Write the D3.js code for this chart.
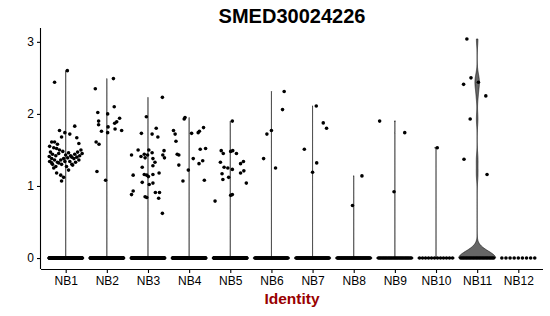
<!DOCTYPE html>
<html>
<head>
<meta charset="utf-8">
<script src="https://cdn.jsdelivr.net/npm/d3@7"></script>
<style>
  body { margin: 0; background: #fff; }
  text { font-family: "Liberation Sans", Arial, sans-serif; }
</style>
</head>
<body>
<div id="chart"></div>
<script>
// clusters on the x axis
var categories = ["NB1", "NB2", "NB3", "NB4", "NB5", "NB6", "NB7", "NB8", "NB9", "NB10", "NB11", "NB12"];

// how many cells sit at exactly 0 in each cluster
var zeroCounts = [200, 200, 200, 200, 200, 60, 60, 50, 28, 12, 24, 9];

// expressing cells: [jitter (fraction of band), expression]
var pointsNB1 = [[-0.27, 2.44], [0.04, 2.6], [0.22, 1.83], [-0.15, 1.77], [-0.02, 1.74], [0.10, 1.72],
  [-0.10, 1.68], [0.27, 1.67], [-0.34, 1.61], [-0.27, 1.61], [-0.20, 1.58], [0.32, 1.59], [-0.39, 1.55],
  [-0.29, 1.53], [-0.22, 1.52], [-0.15, 1.5], [-0.37, 1.47], [-0.32, 1.44], [-0.24, 1.42], [-0.17, 1.45],
  [-0.07, 1.48], [0, 1.43], [0.07, 1.46], [0.15, 1.4], [0.22, 1.44], [0.29, 1.47], [0.37, 1.5], [0.40, 1.45],
  [-0.40, 1.41], [-0.34, 1.38], [-0.27, 1.36], [-0.20, 1.33], [-0.12, 1.36], [-0.05, 1.38], [0.05, 1.39],
  [0.12, 1.42], [0.20, 1.38], [0.27, 1.4], [0.34, 1.42], [-0.39, 1.34], [-0.32, 1.3], [-0.24, 1.27],
  [-0.17, 1.32], [-0.10, 1.3], [-0.02, 1.34], [0.10, 1.34], [0.17, 1.29], [0.24, 1.33], [0.32, 1.36],
  [-0.29, 1.25], [-0.22, 1.18], [-0.12, 1.15], [-0.10, 1.07], [0.02, 1.27], [0.07, 1.22], [0.15, 1.3],
  [-0.34, 1.32], [-0.05, 1.12]];
var pointsNB2 = [[0.16, 2.49], [-0.28, 2.35], [0.18, 2.1], [-0.22, 2.02], [0.02, 2.0], [0.31, 1.94],
  [0.24, 1.89], [0.19, 1.87], [-0.20, 1.9], [-0.20, 1.85], [0.03, 1.82], [0.20, 1.79], [-0.13, 1.76],
  [0.36, 1.77], [0.02, 1.74], [-0.26, 1.61], [-0.19, 1.58], [-0.24, 1.2], [-0.03, 1.08]];
var pointsNB3 = [[0.35, 2.23], [-0.04, 1.96], [0.20, 1.8], [-0.16, 1.73], [0.10, 1.72], [0.24, 1.68],
  [-0.24, 1.5], [0.02, 1.5], [0.10, 1.46], [0.39, 1.49], [-0.40, 1.43], [-0.17, 1.41], [-0.09, 1.44],
  [-0.07, 1.39], [-0.01, 1.43], [0.36, 1.43], [0.40, 1.39], [0.12, 1.38], [0.17, 1.33], [0.12, 1.28],
  [-0.14, 1.26], [-0.36, 1.15], [-0.09, 1.16], [-0.03, 1.15], [0.01, 1.13], [0.12, 1.16], [0.27, 1.18],
  [-0.14, 1.05], [0.03, 1.02], [0.12, 1.04], [-0.36, 0.93], [-0.40, 0.88], [0.18, 0.91], [0.28, 0.91],
  [-0.07, 0.85], [-0.03, 0.84], [0.26, 0.83], [0.35, 0.62]];
var pointsNB4 = [[-0.10, 1.95], [-0.12, 1.93], [-0.38, 1.77], [-0.34, 1.72], [0.06, 1.73], [0.22, 1.74],
  [0.25, 1.76], [0.35, 1.81], [-0.32, 1.62], [0.27, 1.51], [0.40, 1.52], [-0.29, 1.44], [-0.25, 1.43],
  [0.10, 1.38], [0.33, 1.35], [0.24, 1.31], [-0.25, 1.29], [-0.02, 1.22], [-0.15, 1.07], [0.37, 1.08]];
var pointsNB5 = [[0.05, 1.9], [-0.22, 1.49], [-0.17, 1.45], [0.01, 1.48], [0.06, 1.49], [0.15, 1.45],
  [-0.24, 1.33], [0.25, 1.31], [0.32, 1.34], [-0.15, 1.26], [-0.06, 1.25], [0.05, 1.23], [-0.20, 1.17],
  [0.25, 1.18], [0.33, 1.21], [-0.18, 1.09], [-0.04, 1.12], [0.39, 1.04], [0.01, 0.87], [0.05, 0.88],
  [-0.37, 0.79]];
var pointsNB6 = [[0.31, 2.31], [0.27, 2.06], [0, 1.77], [-0.11, 1.72], [-0.19, 1.38], [0.10, 1.25]];
var pointsNB7 = [[0.09, 2.11], [0.26, 1.875], [0.34, 1.8], [-0.20, 1.51], [0.10, 1.32], [0, 1.19]];
var pointsNB8 = [[0.20, 1.14], [-0.03, 0.73]];
var pointsNB9 = [[-0.37, 1.9], [0.24, 1.74], [-0.02, 0.92]];
var pointsNB10 = [[0.03, 1.53]];
var pointsNB11 = [[-0.25, 3.04], [-0.15, 2.5], [-0.33, 2.41], [0.03, 2.44], [0.21, 2.25], [-0.17, 1.93],
  [-0.32, 1.37], [0.24, 1.16]];
var pointsNB12 = [];

var yTicks = [0, 1, 2, 3];
var title = "SMED30024226";
var xTitle = "Identity";

var expressed = [pointsNB1, pointsNB2, pointsNB3, pointsNB4, pointsNB5, pointsNB6,
  pointsNB7, pointsNB8, pointsNB9, pointsNB10, pointsNB11, pointsNB12];

var W = 550, H = 316;
var margin = {top: 28, right: 7, bottom: 47, left: 41},
    width = W - margin.left - margin.right,
    height = H - margin.top - margin.bottom;

// one record per cluster: all cells (zeros spread over the jitter width)
var groups = categories.map(function(c, i) {
    var cells = [];
    var n0 = zeroCounts[i];
    for (var k = 0; k < n0; k++) {
	cells.push({jit: n0 > 1 ? -0.4 + 0.8 * k / (n0 - 1) : 0, val: 0});
    }
    expressed[i].forEach(function(p) { cells.push({jit: p[0], val: p[1]}); });
    return {id: c, cells: cells};
});

var allVals = [].concat.apply([], groups.map(function(g) { return g.cells.map(function(d) { return d.val; }); }));
var yMax = d3.max(allVals), yMin = 0, pad = (yMax - yMin) * 0.05;

var x = d3.scalePoint().domain(categories).range([0, width]).padding(0.6),
    y = d3.scaleLinear().domain([yMin - pad, yMax + pad]).range([height, 0]);

var svg = d3.select("#chart").append("svg")
    .attr("width", W)
    .attr("height", H)
    .append("g")
    .attr("transform", "translate(" + margin.left + "," + margin.top + ")");

// bandwidth like R's bw.nrd0; Seurat adds tiny noise, so IQR==0 collapses the violin to a spike
function bandwidth(v) {
    var s = v.slice().sort(d3.ascending);
    var iqr = d3.quantileSorted(s, 0.75) - d3.quantileSorted(s, 0.25);
    if (iqr === 0) return 1e-4;
    return 0.9 * Math.min(d3.deviation(s), iqr / 1.34) * Math.pow(s.length, -0.2);
}

var halfW = 0.45 * x.step();

groups.forEach(function(g) {
    var v = g.cells.map(function(d) { return d.val; });
    var lo = d3.min(v), hi = d3.max(v);
    if (hi === lo) return;
    var bw = bandwidth(v);
    var grid = d3.range(512).map(function(k) { return lo + (hi - lo) * k / 511; });
    var dens = grid.map(function(t) {
	return {t: t, d: d3.sum(v, function(u) { var z = (t - u) / bw; return Math.exp(-0.5 * z * z); })};
    });
    var dmax = d3.max(dens, function(d) { return d.d; });
    var cx = x(g.id);
    var area = d3.area()
	.y(function(d) { return y(d.t); })
	.x0(function(d) { return cx - halfW * d.d / dmax; })
	.x1(function(d) { return cx + halfW * d.d / dmax; });
    svg.append("path")
	.attr("class", "violin")
	.attr("d", area(dens))
	.style("fill", "#666666")
	.style("stroke", "#000")
	.style("stroke-width", 0.55);
});

svg.selectAll(".grp")
    .data(groups)
    .enter().append("g")
    .attr("class", "grp")
    .selectAll(".dot")
    .data(function(g) { return g.cells.map(function(d) { return {id: g.id, jit: d.jit, val: d.val}; }); })
    .enter().append("circle")
    .attr("class", "dot")
    .attr("r", 1.8)
    .attr("cx", function(d) { return x(d.id) + d.jit * x.step(); })
    .attr("cy", function(d) { return y(d.val); })
    .style("fill", "#000");

// axes
var xAxis = svg.append("g")
    .attr("transform", "translate(0," + height + ")")
    .call(d3.axisBottom(x).tickSize(4).tickSizeOuter(0).tickPadding(3));
var yAxis = svg.append("g")
    .call(d3.axisLeft(y).tickValues(yTicks).tickFormat(d3.format("d")).tickSize(4).tickSizeOuter(0).tickPadding(3));

[xAxis, yAxis].forEach(function(a) {
    a.select(".domain").attr("stroke", "#000").attr("stroke-width", 1.1);
    a.selectAll(".tick line").attr("stroke", "#000").attr("stroke-width", 1.1);
    a.selectAll(".tick text")
	.attr("fill", "#000")
	.style("font-family", "'Liberation Sans', Arial, sans-serif")
	.style("font-size", "12px");
});
// axis lines span the whole panel
xAxis.select(".domain").attr("d", "M0,0.5H" + width);
yAxis.select(".domain").attr("d", "M-0.5,0V" + height);

svg.append("text")
    .attr("x", width / 2)
    .attr("y", -5)
    .attr("text-anchor", "middle")
    .style("font-weight", "bold")
    .style("font-size", "20px")
    .attr("fill", "#000")
    .text(title);

svg.append("text")
    .attr("x", width / 2)
    .attr("y", height + 35)
    .attr("text-anchor", "middle")
    .style("font-weight", "bold")
    .style("font-size", "15.5px")
    .attr("fill", "#990000")
    .text(xTitle);
</script>
</body>
</html>
